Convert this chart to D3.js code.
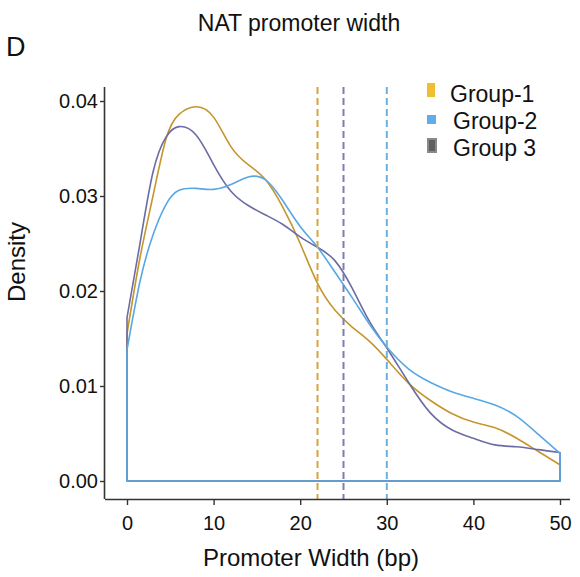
<!DOCTYPE html>
<html>
<head>
<meta charset="utf-8">
<script src="https://cdn.jsdelivr.net/npm/d3@7"></script>
<style>
  body { margin: 0; background: #fff; }
  svg text { font-family: "Liberation Sans", Arial, Helvetica, sans-serif; fill: #111; }
</style>
</head>
<body>
<svg id="chart" width="580" height="577"></svg>
<script>
// Kernel density estimates of NAT promoter width, sampled on a shared grid (bp)
const widthGrid = [0, 1.5, 3, 4.5, 6, 8, 10, 12, 14, 16, 18, 20, 22, 24, 26, 28, 30, 32.5, 35, 37.5, 40, 42.5, 45, 47.5, 50];
const group1Density = [0.0155, 0.0235, 0.0300, 0.0360, 0.0386, 0.0394, 0.0383, 0.0352, 0.0333, 0.0317, 0.0288, 0.0250, 0.0208, 0.0180, 0.0162, 0.0147, 0.0128, 0.0103, 0.0085, 0.0071, 0.0062, 0.0056, 0.0045, 0.0031, 0.0017];
const group2Density = [0.0138, 0.0210, 0.0259, 0.0291, 0.0306, 0.0308, 0.0307, 0.0312, 0.0320, 0.0317, 0.0295, 0.0268, 0.0246, 0.0220, 0.0193, 0.0165, 0.0141, 0.0118, 0.0104, 0.0094, 0.0087, 0.0080, 0.0068, 0.0049, 0.0029];
const group3Density = [0.0172, 0.0250, 0.0325, 0.0362, 0.0373, 0.0364, 0.0333, 0.0305, 0.0290, 0.0280, 0.0270, 0.0257, 0.0246, 0.0232, 0.0203, 0.0168, 0.0140, 0.0104, 0.0072, 0.0054, 0.0045, 0.0038, 0.0036, 0.0033, 0.0030];

// Group means (dashed reference lines)
const groupNames = ["Group-1", "Group-2", "Group 3"];
const groupMeans = [22, 30, 25];

const xTicks = [0, 10, 20, 30, 40, 50];
const yTicks = [0, 0.01, 0.02, 0.03, 0.04];

const lineColors = { "Group-1": "#C4962C", "Group-2": "#58A8E2", "Group 3": "#6B6CA4" };
const dashColors = { "Group-1": "#D6A53C", "Group-2": "#6CB0DE", "Group 3": "#7E7FAE" };
const legendColors = { "Group-1": "#EFBF2E", "Group-2": "#5DAEEA", "Group 3": "#8A8A8A" };

const svg = d3.select("#chart");

const x = d3.scaleLinear().domain([0, 50]).range([127, 560]);
const y = d3.scaleLinear().domain([0, 0.04]).range([481, 101]);

// Title and panel letter
svg.append("text").attr("x", 299).attr("y", 31).attr("text-anchor", "middle")
  .attr("font-size", 23).text("NAT promoter width");
svg.append("text").attr("x", 6).attr("y", 56).attr("font-size", 27).text("D");

// Density outlines, blue drawn last
const series = [
  { name: "Group-1", values: group1Density },
  { name: "Group 3", values: group3Density },
  { name: "Group-2", values: group2Density }
];

const curve = d3.line()
  .x(d => x(d[0]))
  .y(d => y(d[1]))
  .curve(d3.curveNatural);

series.forEach(s => {
  const pts = widthGrid.map((w, i) => [w, s.values[i]]);
  const top = curve(pts);
  const path = top + `L${x(50)},${y(0)}L${x(0)},${y(0)}Z`;
  svg.append("path")
    .attr("d", path)
    .attr("fill", "none")
    .attr("stroke", lineColors[s.name])
    .attr("stroke-width", 1.6)
    .attr("stroke-linejoin", "round");
});

// Mean lines
groupNames.forEach((g, i) => {
  svg.append("line")
    .attr("x1", x(groupMeans[i])).attr("x2", x(groupMeans[i]))
    .attr("y1", 87).attr("y2", 499)
    .attr("stroke", dashColors[g])
    .attr("stroke-width", 2)
    .attr("stroke-dasharray", "7,4");
});

// Axes
const xAxis = d3.axisBottom(x).tickValues(xTicks).tickFormat(d3.format("d"))
  .tickSize(6).tickSizeOuter(0).tickPadding(11);
const gx = svg.append("g").attr("transform", "translate(0,499)").call(xAxis);
gx.select(".domain").attr("d", "M105,0.5H570").attr("stroke", "#333").attr("stroke-width", 1.6);
gx.selectAll(".tick line").attr("stroke", "#333").attr("stroke-width", 1.4);
gx.selectAll(".tick text").attr("font-size", 20).attr("fill", "#111")
  .attr("font-family", "Liberation Sans, Arial, sans-serif");

const yAxis = d3.axisLeft(y).tickValues(yTicks).tickFormat(d3.format(".2f"))
  .tickSize(5).tickSizeOuter(0).tickPadding(2);
const gy = svg.append("g").attr("transform", "translate(105,0)").call(yAxis);
gy.select(".domain").attr("d", "M-0.5,87V499").attr("stroke", "#333").attr("stroke-width", 1.6);
gy.selectAll(".tick line").attr("stroke", "#333").attr("stroke-width", 1.4);
gy.selectAll(".tick text").attr("font-size", 20).attr("fill", "#111")
  .attr("font-family", "Liberation Sans, Arial, sans-serif");

// Axis titles
svg.append("text").attr("x", 311).attr("y", 566).attr("text-anchor", "middle")
  .attr("font-size", 24).text("Promoter Width (bp)");
svg.append("text").attr("transform", "translate(25,262) rotate(-90)")
  .attr("text-anchor", "middle").attr("font-size", 24).text("Density");

// Legend
const legendBaseline = [102, 129, 156];
const legendTextX = [450, 453, 453];
const legendKeys = [
  { x: 427, y: 83, w: 8, h: 14 },
  { x: 427, y: 115, w: 9, h: 9 },
  { x: 427, y: 138, w: 10, h: 15 }
];
groupNames.forEach((g, i) => {
  const k = legendKeys[i];
  svg.append("rect")
    .attr("x", k.x).attr("y", k.y)
    .attr("width", k.w).attr("height", k.h)
    .attr("fill", legendColors[g]);
  if (g === "Group 3") {
    svg.append("rect")
      .attr("x", k.x + 2).attr("y", k.y + 2)
      .attr("width", k.w - 4).attr("height", k.h - 4)
      .attr("fill", "#5E5E5E");
  }
  svg.append("text")
    .attr("x", legendTextX[i]).attr("y", legendBaseline[i])
    .attr("font-size", 23).text(g);
});
</script>
</body>
</html>
